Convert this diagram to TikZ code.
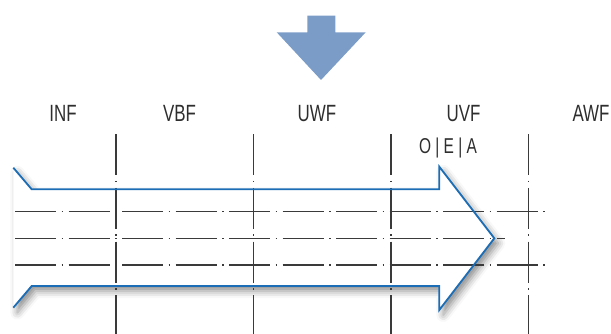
\documentclass[tikz,border=0pt]{standalone}
\usepackage{fontspec}
\setmainfont{Liberation Sans}
\usetikzlibrary{shadows.blur}
\definecolor{arrowblue}{HTML}{1B6DB5}
\definecolor{downblue}{HTML}{7B9CC7}
\definecolor{linegray}{HTML}{3A3A3A}
\definecolor{textgray}{HTML}{2E2E2E}
\tikzset{
  axisline/.style={linegray, line width=1.6pt, dash pattern=on 41pt off 5.5pt on 1.5pt off 5.5pt},
  lbl/.style={anchor=base, inner sep=0pt, text=textgray, font=\fontsize{23.5}{24}\selectfont},
  sublbl/.style={anchor=base, inner sep=0pt, text=textgray, font=\fontsize{21.5}{22}\selectfont},
  outline/.style={arrowblue, line width=1.8pt, line join=miter},
}
\begin{document}
\begin{tikzpicture}[x=1pt,y=-1pt]
\useasboundingbox (0,0) rectangle (611,334);
% down arrow
\fill[downblue] (307.3,15.7) -- (335.3,15.7) -- (335.3,32.3) -- (365.7,32.3) -- (321,80)
  -- (276.7,32.3) -- (307.3,32.3) -- cycle;
% labels
\node[lbl] (inf) at (63,121.7) {\scalebox{0.72}[1]{INF}};
\node[lbl] (vbf) at (179.5,121.7) {\scalebox{0.72}[1]{VBF}};
\node[lbl] (uwf) at (317,121.7) {\scalebox{0.72}[1]{UWF}};
\node[lbl] (uvf) at (463.5,121.7) {\scalebox{0.72}[1]{UVF}};
\node[lbl] (awf) at (591,121.7) {\scalebox{0.72}[1]{AWF}};
\node[sublbl] (oea) at (448,154) {\scalebox{0.72}[1]{O | E | A}};
% arrow points
\coordinate (nt) at (13.3,167.7);
\coordinate (it) at (31.7,189.3);
\coordinate (bt) at (439.3,189.3);
\coordinate (ht) at (439.3,166.7);
\coordinate (tip) at (494.3,238.3);
\coordinate (hb) at (439.3,310);
\coordinate (bb) at (439.3,286);
\coordinate (ib) at (31.7,286);
\coordinate (nb) at (13.3,307.7);
% white body with shadow
\fill[white, blur shadow={shadow xshift=4pt, shadow yshift=-5pt, shadow blur radius=7pt, shadow opacity=45}]
  (nt) -- (it) -- (bt) -- (ht) -- (tip) -- (hb) -- (bb) -- (ib) -- (nb) -- cycle;
% horizontal axis lines
\coordinate (h1s) at (15,211.5);  \coordinate (h1e) at (546,211.5);
\coordinate (h2s) at (15,238.5);  \coordinate (h2e) at (505,238.5);
\coordinate (h3s) at (15,265);    \coordinate (h3e) at (546,265);
\draw[axisline] (h1s) -- (h1e);
\draw[axisline] (h2s) -- (h2e);
\draw[axisline] (h3s) -- (h3e);
% vertical axis lines
\foreach \x [count=\i] in {116,253.3,390.7,528.3}{
  \coordinate (v\i s) at (\x,134.5);
  \coordinate (v\i e) at (\x,334);
  \draw[axisline] (v\i s) -- (v\i e);
}
% blue outline
\draw[outline] (nt) -- (it) -- (bt) -- (ht) -- (tip) -- (hb) -- (bb) -- (ib) -- (nb);
\end{tikzpicture}
\end{document}
